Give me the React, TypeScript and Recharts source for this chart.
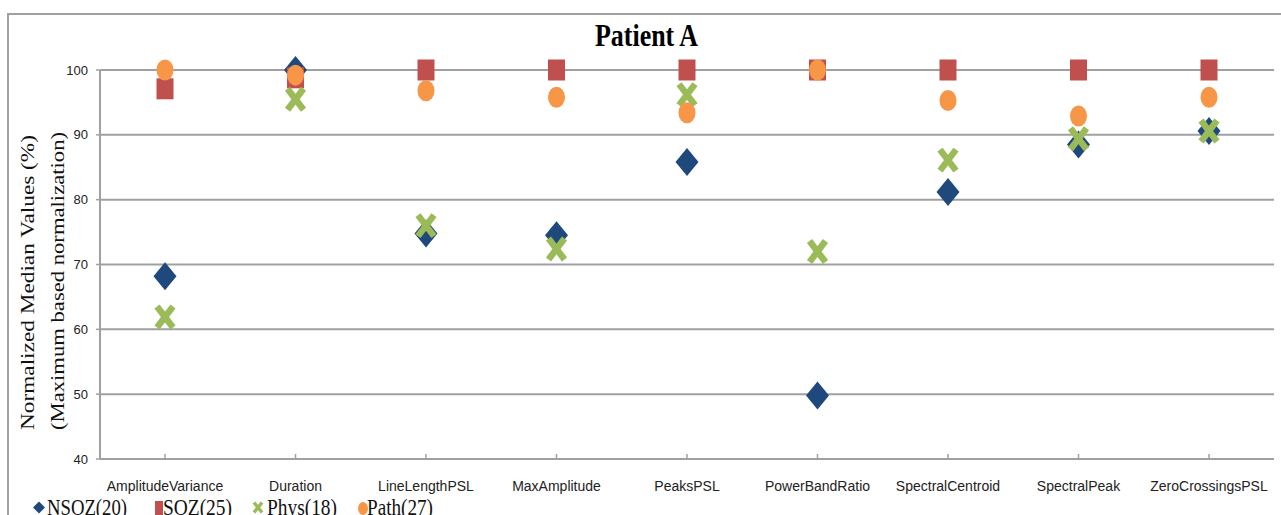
import React from "react";
import { ComposedChart, Scatter, XAxis, YAxis, CartesianGrid } from "recharts";

// values
const FEATURES = [
  "AmplitudeVariance",
  "Duration",
  "LineLengthPSL",
  "MaxAmplitude",
  "PeaksPSL",
  "PowerBandRatio",
  "SpectralCentroid",
  "SpectralPeak",
  "ZeroCrossingsPSL",
];
const NSOZ = [68.2, 100, 74.8, 74.5, 85.8, 49.8, 81.2, 88.5, 90.6];
const SOZ = [97.1, 98.8, 100, 100, 100, 100, 100, 100, 100];
const PHYS = [61.9, 95.5, 76.0, 72.4, 96.2, 72.0, 86.1, 89.4, 90.6];
const PATH = [100, 99.2, 96.8, 95.8, 93.4, 100, 95.3, 92.9, 95.8];
const Y_TICKS = [40, 50, 60, 70, 80, 90, 100];

const BLUE = "#1F497D";
const RED = "#C0504D";
const GREEN = "#9BBB59";
const ORANGE = "#F79646";
const GRID = "#a0a0a0";

const data = FEATURES.map((feature, i) => ({
  feature,
  nsoz: NSOZ[i],
  soz: SOZ[i],
  phys: PHYS[i],
  path: PATH[i],
}));

const Diamond = (p: any) => (
  <path
    d={`M${p.cx},${p.cy - 14}L${p.cx + 11.5},${p.cy}L${p.cx},${p.cy + 14}L${p.cx - 11.5},${p.cy}Z`}
    fill={BLUE}
  />
);
const Square = (p: any) => <rect x={p.cx - 8.5} y={p.cy - 10.5} width={17} height={21} fill={RED} />;
const Cross = (p: any) => (
  <g stroke={GREEN} strokeWidth={6.5}>
    <line x1={p.cx - 8} y1={p.cy - 10.5} x2={p.cx + 8} y2={p.cy + 10.5} />
    <line x1={p.cx - 8} y1={p.cy + 10.5} x2={p.cx + 8} y2={p.cy - 10.5} />
  </g>
);
const Dot = (p: any) => <ellipse cx={p.cx} cy={p.cy} rx={8.5} ry={10.5} fill={ORANGE} />;

const legendText = { fontFamily: "'Liberation Serif', serif", fontSize: 20, fill: "#111" };

export default function App() {
  return (
    <div style={{ position: "absolute", left: 0, top: 0, width: 1281, height: 515, overflow: "hidden", background: "#fff" }}>
      <div
        style={{
          position: "absolute",
          left: 7,
          top: 13,
          width: 1290,
          height: 520,
          borderTop: `2px solid ${GRID}`,
          borderLeft: `2px solid ${GRID}`,
        }}
      />
      <ComposedChart width={1281} height={515} data={data} margin={{ top: 70, right: 7, bottom: 26, left: 20 }}>
        <CartesianGrid vertical={false} stroke={GRID} strokeWidth={2} />
        <XAxis
          dataKey="feature"
          height={30}
          padding={{ left: 65, right: 65 }}
          axisLine={{ stroke: GRID, strokeWidth: 2 }}
          tickLine={{ stroke: GRID, strokeWidth: 1.5 }}
          tickSize={-5}
          tickMargin={27}
          interval={0}
          tick={{ fontFamily: "'Liberation Sans', sans-serif", fontSize: 14, fill: "#222" }}
        />
        <YAxis
          width={80}
          domain={[40, 100]}
          ticks={Y_TICKS}
          interval={0}
          axisLine={{ stroke: GRID, strokeWidth: 2 }}
          tickLine={{ stroke: GRID, strokeWidth: 1.5 }}
          tickSize={4}
          tickMargin={8}
          tick={{ fontFamily: "'Liberation Sans', sans-serif", fontSize: 13, fill: "#222" }}
        />
        <Scatter dataKey="nsoz" shape={Diamond} isAnimationActive={false} />
        <Scatter dataKey="soz" shape={Square} isAnimationActive={false} />
        <Scatter dataKey="phys" shape={Cross} isAnimationActive={false} />
        <Scatter dataKey="path" shape={Dot} isAnimationActive={false} />
      </ComposedChart>

      {/* title, axis title and legend */}
      <svg width={1281} height={515} style={{ position: "absolute", left: 0, top: 0, pointerEvents: "none" }}>
        <text
          transform="translate(646.5,46) scale(1,1.3)"
          textAnchor="middle"
          fontFamily="'Liberation Serif', serif"
          fontWeight="bold"
          fontSize={25}
          textLength={103}
          lengthAdjust="spacingAndGlyphs"
          fill="#000"
        >
          Patient  A
        </text>
        <text
          transform="translate(34,282.5) rotate(-90)"
          textAnchor="middle"
          fontFamily="'Liberation Serif', serif"
          fontSize={18}
          textLength={295}
          lengthAdjust="spacingAndGlyphs"
          fill="#111"
        >
          Normalized Median Values (%)
        </text>
        <text
          transform="translate(64,281) rotate(-90)"
          textAnchor="middle"
          fontFamily="'Liberation Serif', serif"
          fontSize={18}
          textLength={298}
          lengthAdjust="spacingAndGlyphs"
          fill="#111"
        >
          (Maximum based normalization)
        </text>

        <path d="M39,501.5L45,507.5L39,513.5L33,507.5Z" fill={BLUE} />
        <text transform="translate(47,515) scale(1,1.2)" {...legendText} textLength={80} lengthAdjust="spacingAndGlyphs">
          NSOZ(20)
        </text>
        <rect x={155} y={501} width={8} height={14} fill={RED} />
        <text transform="translate(163,515) scale(1,1.2)" {...legendText} textLength={69} lengthAdjust="spacingAndGlyphs">
          SOZ(25)
        </text>
        <g stroke={GREEN} strokeWidth={3.5}>
          <line x1={254} y1={502.5} x2={262} y2={512.5} />
          <line x1={254} y1={512.5} x2={262} y2={502.5} />
        </g>
        <text transform="translate(267,515) scale(1,1.2)" {...legendText} textLength={70} lengthAdjust="spacingAndGlyphs">
          Phys(18)
        </text>
        <ellipse cx={363} cy={508.5} rx={5} ry={6.5} fill={ORANGE} />
        <text transform="translate(367,515) scale(1,1.2)" {...legendText} textLength={66} lengthAdjust="spacingAndGlyphs">
          Path(27)
        </text>
      </svg>
    </div>
  );
}
